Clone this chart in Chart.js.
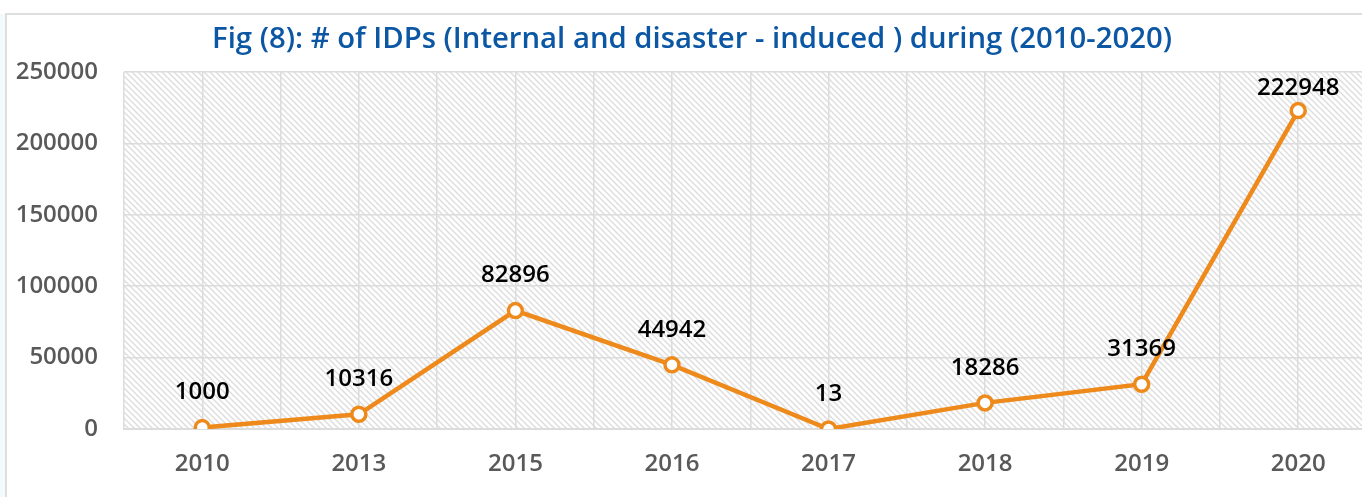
<!DOCTYPE html>
<html>
<head>
<meta charset="utf-8">
<script src="https://cdn.jsdelivr.net/npm/chart.js@4"></script>
<style>
  html, body { margin: 0; padding: 0; background: #fff; overflow: hidden; }
  #strip { position: absolute; left: 0; top: 14px; width: 5px; height: 483px; background: #f2fafd; }
  #frame { position: absolute; left: 5px; top: 13px; width: 1400px; height: 490px;
           border-top: 2px solid #dedede; border-left: 2px solid #dedede; }
  #chart { position: absolute; left: 0; top: 0; }
</style>
</head>
<body>
<div id="strip"></div>
<div id="frame"></div>
<canvas id="chart" width="1387" height="497"></canvas>
<script>
var years = ["2010", "2013", "2015", "2016", "2017", "2018", "2019", "2020"];
var idps = [1000, 10316, 82896, 44942, 13, 18286, 31369, 222948];
var titleText = "Fig (8): # of IDPs (Internal and disaster - induced ) during (2010-2020)";

var orange = "#EE8A1B";
var gridColor = "#dcdcdc";
var tickFont = { family: "Open Sans", size: 24, weight: "600" };

function makeHatch() {
  var c = document.createElement("canvas");
  c.width = 6;
  c.height = 6;
  var g = c.getContext("2d");
  g.fillStyle = "#ffffff";
  g.fillRect(0, 0, 6, 6);
  g.strokeStyle = "#dedede";
  g.lineWidth = 1.5;
  g.beginPath();
  g.moveTo(-1, -1); g.lineTo(7, 7);
  g.moveTo(-1, 5); g.lineTo(1, 7);
  g.moveTo(5, -1); g.lineTo(7, 1);
  g.stroke();
  return g.createPattern(c, "repeat");
}

var hatchBackground = {
  id: "hatchBackground",
  beforeDraw: function(chart) {
    var a = chart.chartArea;
    var ctx = chart.ctx;
    ctx.save();
    ctx.fillStyle = makeHatch();
    ctx.fillRect(a.left, a.top, a.right - a.left, a.bottom - a.top);
    ctx.restore();
  }
};

var valueLabels = {
  id: "valueLabels",
  afterDatasetsDraw: function(chart) {
    var ctx = chart.ctx;
    var meta = chart.getDatasetMeta(0);
    ctx.save();
    ctx.font = "600 24px 'Open Sans'";
    ctx.fillStyle = "#000";
    ctx.textAlign = "center";
    ctx.textBaseline = "middle";
    meta.data.forEach(function(pt, i) {
      var y = Math.max(pt.y - 35, chart.chartArea.top + 16);
      ctx.fillText(String(idps[i]), pt.x, y);
    });
    ctx.restore();
  }
};

new Chart(document.getElementById("chart"), {
  type: "line",
  data: {
    labels: years,
    datasets: [{
      data: idps,
      borderColor: orange,
      borderWidth: 4.5,
      pointRadius: 7,
      pointHoverRadius: 7,
      pointBorderWidth: 3.5,
      pointBackgroundColor: "#fff",
      pointBorderColor: orange,
      tension: 0,
      xAxisID: "x",
      yAxisID: "y"
    }]
  },
  options: {
    responsive: false,
    animation: false,
    devicePixelRatio: 1,
    layout: { padding: { left: 0, right: 3, top: 0, bottom: 0 } },
    plugins: {
      legend: { display: false },
      tooltip: { enabled: false },
      title: {
        display: true,
        text: titleText,
        color: "#0B57A4",
        font: { family: "Open Sans", size: 29.3, weight: "600", lineHeight: 1.2 },
        padding: { top: 22.5, bottom: 14.3 }
      }
    },
    scales: {
      x: {
        type: "category",
        offset: true,
        grid: { offset: false, color: gridColor, lineWidth: 1.5, drawTicks: false },
        border: { display: true, color: gridColor, width: 2 },
        ticks: { color: "#595959", font: tickFont, padding: 21, maxRotation: 0 },
        afterFit: function(scale) { scale.height = 68; }
      },
      x2: {
        type: "category",
        labels: years,
        position: "bottom",
        offset: true,
        grid: { offset: true, color: gridColor, lineWidth: 1.5, drawTicks: false },
        border: { display: false },
        ticks: { display: false },
        afterFit: function(scale) { scale.height = 0; }
      },
      y: {
        min: 0,
        max: 250000,
        ticks: {
          stepSize: 50000,
          color: "#595959",
          font: tickFont,
          padding: 26,
          callback: function(v) { return String(v); }
        },
        grid: { color: gridColor, lineWidth: 1.5, drawTicks: false },
        border: { display: false },
        afterFit: function(scale) { scale.width = 124; }
      }
    }
  },
  plugins: [hatchBackground, valueLabels]
});
</script>
</body>
</html>
